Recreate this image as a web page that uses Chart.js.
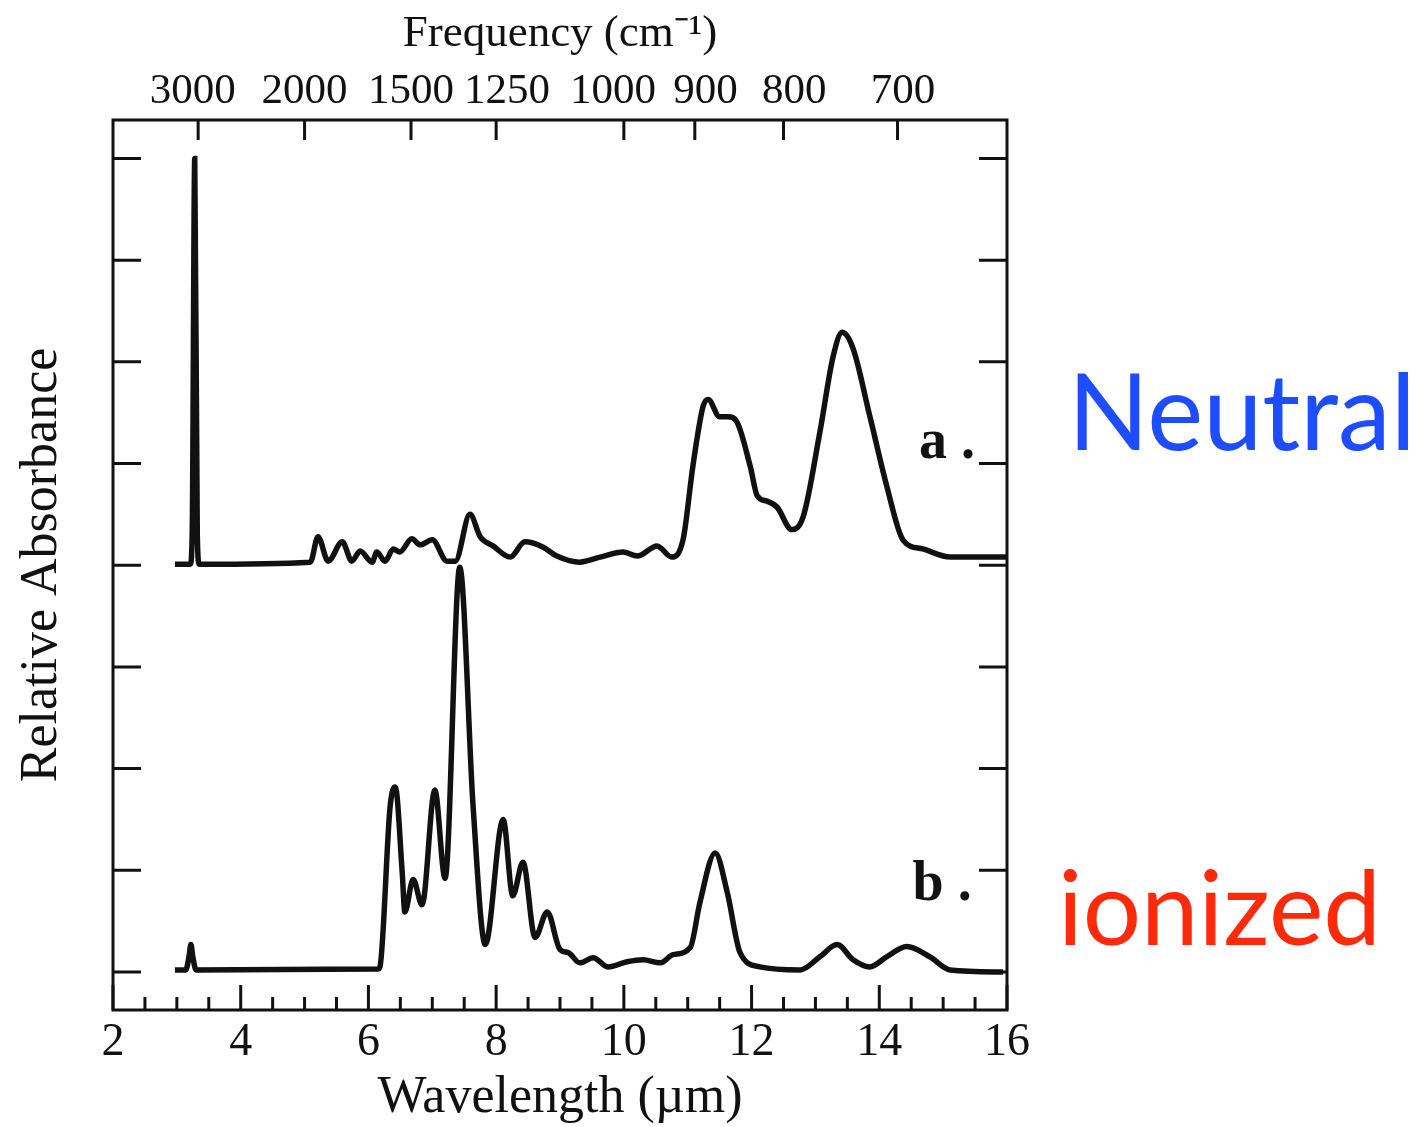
<!DOCTYPE html>
<html>
<head>
<meta charset="utf-8">
<script src="https://cdn.jsdelivr.net/npm/chart.js@4.4.0/dist/chart.umd.min.js"></script>
<style>
html, body { margin: 0; padding: 0; background: #fff; }
#wrap { width: 1421px; height: 1127px; }
</style>
</head>
<body>
<div id="wrap"><canvas id="spectra" width="1421" height="1127"></canvas></div>
<script>
// wavelength (µm) / relative absorbance
const neutralWavelength = [2.97, 3.21, 3.24, 3.28, 3.32, 3.35, 5.09, 5.21, 5.37, 5.59, 5.74, 5.87, 6.06, 6.13, 6.26, 6.39,
  6.49, 6.68, 6.81, 7.00, 7.23, 7.36, 7.59, 7.75, 7.95, 8.22, 8.45, 8.73, 8.95, 9.31, 9.63, 9.99, 10.21, 10.52, 10.75, 10.93,
  11.08, 11.24, 11.32, 11.50, 11.63, 11.77, 11.98, 12.09, 12.24, 12.40, 12.63, 12.81, 13.07, 13.28, 13.42, 13.59, 13.85, 14.12,
  14.37, 14.68, 15.11, 16.0];
const neutralAbsorbance = [0.01, 0.01, 0.3, 4.0, 0.3, 0.01, 0.03, 0.28, 0.04, 0.23, 0.04, 0.14, 0.03, 0.13, 0.04, 0.16,
  0.13, 0.26, 0.20, 0.25, 0.04, 0.04, 0.50, 0.28, 0.19, 0.08, 0.23, 0.18, 0.09, 0.03, 0.08, 0.13, 0.09, 0.19, 0.08, 0.26,
  0.97, 1.56, 1.63, 1.46, 1.46, 1.41, 0.97, 0.68, 0.63, 0.57, 0.35, 0.48, 1.31, 2.06, 2.29, 2.13, 1.47, 0.77,
  0.25, 0.16, 0.08, 0.08];

const ionizedWavelength = [2.97, 3.14, 3.19, 3.22, 3.25, 3.30, 6.15, 6.18, 6.34, 6.42, 6.53, 6.57, 6.70, 6.84, 7.04, 7.20,
  7.43, 7.64, 7.83, 8.11, 8.26, 8.42, 8.61, 8.80, 9.00, 9.13, 9.31, 9.52, 9.75, 10.05, 10.30, 10.57, 10.77, 11.04, 11.19, 11.43,
  11.62, 11.82, 12.13, 12.76, 13.07, 13.34, 13.59, 13.85, 14.12, 14.43, 14.79, 15.11, 15.94];
const ionizedAbsorbance = [0.02, 0.02, 0.15, 0.27, 0.15, 0.02, 0.03, 0.05, 1.63, 1.82, 0.97, 0.59, 0.91, 0.66, 1.79, 0.92,
  3.98, 1.62, 0.27, 1.50, 0.75, 1.08, 0.34, 0.59, 0.22, 0.19, 0.09, 0.14, 0.05, 0.10, 0.12, 0.09, 0.17, 0.24, 0.68, 1.17,
  0.78, 0.19, 0.05, 0.02, 0.15, 0.27, 0.12, 0.05, 0.15, 0.25, 0.15, 0.02, 0.0];

const neutralOffset = 4; // trace a is stacked above trace b
const wavelengthLabels = [2, 4, 6, 8, 10, 12, 14, 16];
const frequencyLabels = [3000, 2000, 1500, 1250, 1000, 900, 800, 700];
// the printed labels are nudged sideways so they do not run into each other
const frequencyLabelText = ['3000 ', '2000', '1500', '  1250', '1000  ', '  900', '  800', ' 700'];
const absorbanceTicks = [0, 1, 2, 3, 4, 5, 6, 7, 8];

const serif = '"Liberation Serif", "Times New Roman", serif';
const ink = '#111';

const toPoints = (xs, ys, off) => xs.map((x, i) => ({x: x, y: ys[i] + off}));

// frame, inward tick marks and the text labels
const decorations = {
  id: 'decorations',
  afterDraw(chart) {
    const ctx = chart.ctx;
    const {left, right, top, bottom} = chart.chartArea;
    const sx = chart.scales.x, st = chart.scales.xTop, sy = chart.scales.y;
    ctx.save();
    ctx.strokeStyle = ink;
    ctx.lineWidth = 3;
    ctx.strokeRect(left, top, right - left, bottom - top);
    ctx.beginPath();
    sx.ticks.forEach(t => {
      const px = sx.getPixelForValue(t.value);
      const len = wavelengthLabels.includes(t.value) ? 25 : 13;
      ctx.moveTo(px, bottom);
      ctx.lineTo(px, bottom - len);
    });
    st.ticks.forEach(t => {
      const px = st.getPixelForValue(t.value);
      ctx.moveTo(px, top);
      ctx.lineTo(px, top + 20);
    });
    sy.ticks.forEach(t => {
      const py = sy.getPixelForValue(t.value);
      ctx.moveTo(left, py);
      ctx.lineTo(left + 28, py);
      ctx.moveTo(right, py);
      ctx.lineTo(right - 28, py);
    });
    ctx.stroke();

    ctx.fillStyle = ink;
    ctx.font = 'bold 56px ' + serif;
    ctx.textBaseline = 'alphabetic';
    ctx.textAlign = 'left';
    ctx.fillText('a .', sx.getPixelForValue(14.62), sy.getPixelForValue(5.05));
    ctx.fillText('b .', sx.getPixelForValue(14.52), sy.getPixelForValue(0.71));

    ctx.font = '106px Lato, "Open Sans", sans-serif';
    ctx.fillStyle = '#1d4dff';
    ctx.fillText('Neutral', 1068, 450);
    ctx.font = '103px Lato, "Open Sans", sans-serif';
    ctx.fillStyle = '#ff2a0a';
    ctx.fillText('ionized', 1058, 945);
    ctx.restore();
  }
};

new Chart(document.getElementById('spectra'), {
  type: 'line',
  data: {
    datasets: [
      {
        label: 'a',
        data: toPoints(neutralWavelength, neutralAbsorbance, neutralOffset),
        borderColor: ink,
        borderWidth: 5.5,
        pointRadius: 0,
        cubicInterpolationMode: 'monotone'
      },
      {
        label: 'b',
        data: toPoints(ionizedWavelength, ionizedAbsorbance, 0),
        borderColor: ink,
        borderWidth: 5.5,
        pointRadius: 0,
        cubicInterpolationMode: 'monotone'
      }
    ]
  },
  options: {
    responsive: false,
    animation: false,
    layout: {padding: {left: 0, right: 414, top: 0, bottom: 0}},
    plugins: {legend: {display: false}, tooltip: {enabled: false}},
    scales: {
      x: {
        type: 'linear',
        position: 'bottom',
        min: 2,
        max: 16,
        grid: {display: false, drawTicks: false},
        border: {display: false},
        afterBuildTicks: (scale) => {
          const ticks = [];
          for (let v = 2; v <= 16; v += 0.5) ticks.push({value: v});
          scale.ticks = ticks;
        },
        ticks: {
          autoSkip: false,
          maxRotation: 0,
          padding: 10,
          color: ink,
          font: {family: serif, size: 46, lineHeight: 1},
          callback: (v) => wavelengthLabels.includes(v) ? String(v) : ''
        },
        title: {
          display: true,
          text: 'Wavelength (µm)',
          color: ink,
          font: {family: serif, size: 52, lineHeight: 1},
          padding: {top: 0, bottom: 3}
        },
        afterFit: (scale) => { scale.height = 117; }
      },
      xTop: {
        type: 'linear',
        position: 'top',
        min: 2,
        max: 16,
        grid: {display: false, drawTicks: false},
        border: {display: false},
        afterBuildTicks: (scale) => {
          scale.ticks = frequencyLabels.map(f => ({value: 10000 / f}));
        },
        ticks: {
          autoSkip: false,
          maxRotation: 0,
          padding: 7,
          color: ink,
          font: {family: serif, size: 43, lineHeight: 1},
          callback: (v, i) => frequencyLabelText[i]
        },
        title: {
          display: true,
          text: 'Frequency (cm\u207B\u00B9)',
          color: ink,
          font: {family: serif, size: 45, lineHeight: 1},
          padding: {top: 12, bottom: 0}
        },
        afterFit: (scale) => { scale.height = 120; }
      },
      y: {
        type: 'linear',
        min: -0.374,
        max: 8.378,
        grid: {display: false, drawTicks: false},
        border: {display: false},
        afterBuildTicks: (scale) => {
          scale.ticks = absorbanceTicks.map(v => ({value: v}));
        },
        ticks: {display: false},
        title: {
          display: true,
          text: 'Relative Absorbance',
          color: ink,
          font: {family: serif, size: 52, lineHeight: 1},
          padding: {top: 16, bottom: 0}
        },
        afterFit: (scale) => { scale.width = 113; }
      }
    }
  },
  plugins: [decorations]
});
</script>
</body>
</html>
